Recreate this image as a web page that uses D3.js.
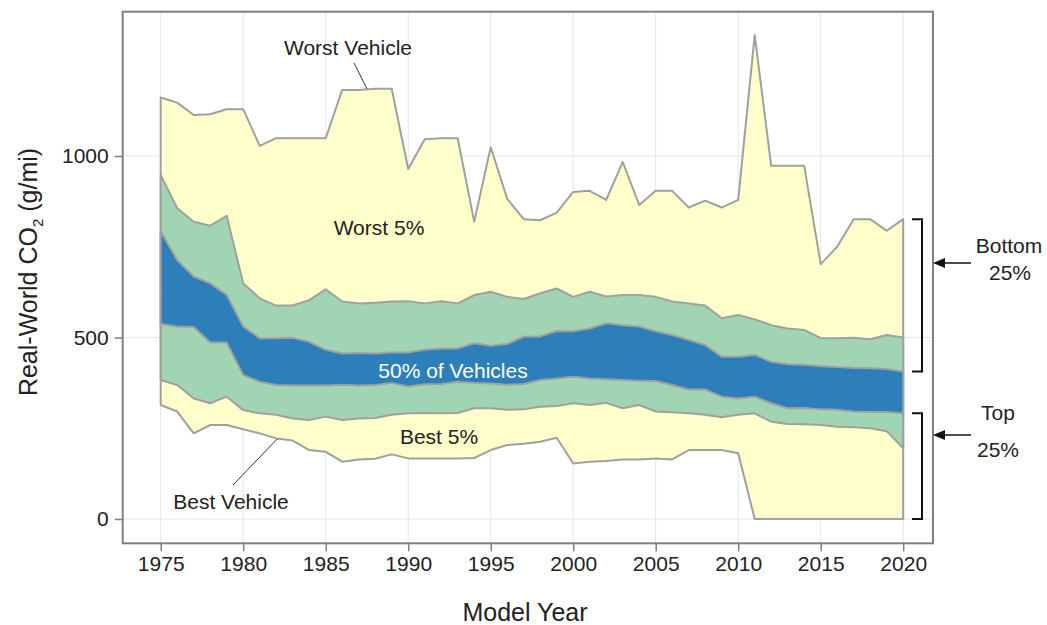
<!DOCTYPE html>
<html>
<head>
<meta charset="utf-8">
<script src="https://cdn.jsdelivr.net/npm/d3@7"></script>
<style>
  body { margin: 0; background: #fff; }
  svg text { font-family: "Liberation Sans", Arial, sans-serif; fill: #222; }
</style>
</head>
<body>
<div id="container"></div>
<script>
var YEARS = d3.range(1975, 2021);

// real-world CO2 (g/mi) by model year
var WORST_VEHICLE = [1161,1147,1113,1115,1129,1129,1028,1049,1049,1049,
		     1049,1182,1182,1185,1185,964,1046,1049,1049,819,
		     1024,882,826,823,844,901,904,879,984,865,
		     904,904,858,877,858,879,1333,973,973,973,
		     702,750,826,826,794,826];
var P95 = [948,856,819,808,835,649,608,588,588,603,
	   633,599,594,596,599,600,594,600,594,617,
	   626,612,606,622,635,612,626,613,617,617,
	   612,599,594,588,553,562,550,534,525,521,
	   498,498,499,495,507,500];
var P75 = [792,713,668,649,617,530,498,498,499,488,
	   466,456,457,456,459,459,466,470,470,484,
	   477,482,502,503,518,517,525,539,534,530,
	   517,507,493,479,447,447,452,433,426,425,
	   421,419,416,415,413,406];
var P25 = [537,530,529,486,486,397,378,369,368,368,
	   368,370,368,369,375,365,371,372,378,375,
	   373,370,372,383,387,392,387,385,383,381,
	   380,369,357,357,337,332,337,319,305,306,
	   302,301,296,295,295,291];
var P05 = [383,369,332,319,337,300,291,287,277,273,
	   282,273,277,278,287,291,292,291,292,305,
	   305,301,302,309,311,319,314,320,305,314,
	   296,294,291,287,280,287,291,268,262,261,
	   259,254,253,250,242,195];
var BEST_VEHICLE = [314,296,236,259,259,247,236,222,216,190,
		    185,158,164,166,178,167,167,167,167,168,
		    190,204,207,213,224,153,158,160,164,164,
		    167,164,190,190,190,181,0,0,0,0,
		    0,0,0,0,0,0];

var X_TICKS = [1975,1980,1985,1990,1995,2000,2005,2010,2015,2020];
var Y_TICKS = [0, 500, 1000];

var WIDTH = 1047, HEIGHT = 625;
var FRAME = { left: 122.7, right: 933, top: 11.7, bottom: 543.3 };

var x = d3.scaleLinear().domain([1975, 2020]).range([160.7, 903.2]);
var y = d3.scaleLinear().domain([0, 1000]).range([519, 156]);

var svg = d3.select("#container").append("svg")
    .attr("width", WIDTH)
    .attr("height", HEIGHT);

// grid
svg.append("g").selectAll("line.vgrid")
    .data(X_TICKS).enter().append("line")
    .attr("x1", function(d){ return x(d); })
    .attr("x2", function(d){ return x(d); })
    .attr("y1", FRAME.top).attr("y2", FRAME.bottom)
    .attr("stroke", "#e6e6e6").attr("stroke-width", 1);

svg.append("g").selectAll("line.hgrid")
    .data(Y_TICKS).enter().append("line")
    .attr("x1", FRAME.left).attr("x2", FRAME.right)
    .attr("y1", function(d){ return y(d); })
    .attr("y2", function(d){ return y(d); })
    .attr("stroke", "#e6e6e6").attr("stroke-width", 1);

var band = function( lo, hi )
{
    return d3.area()
	.x(function(d, i){ return x(YEARS[i]); })
	.y0(function(d, i){ return y(lo[i]); })
	.y1(function(d, i){ return y(hi[i]); })(YEARS);
}

var bands = [
    { lo: BEST_VEHICLE, hi: WORST_VEHICLE, fill: "#ffffcc" },
    { lo: P05, hi: P95, fill: "#a1d4b2" },
    { lo: P25, hi: P75, fill: "#2c7fb8" }
];

svg.append("g").selectAll("path")
    .data(bands).enter().append("path")
    .attr("d", function(b){ return band(b.lo, b.hi); })
    .attr("fill", function(b){ return b.fill; })
    .attr("stroke", "#a0a0a0")
    .attr("stroke-width", 2)
    .attr("stroke-linejoin", "round");

// frame
svg.append("rect")
    .attr("x", FRAME.left).attr("y", FRAME.top)
    .attr("width", FRAME.right - FRAME.left)
    .attr("height", FRAME.bottom - FRAME.top)
    .attr("fill", "none")
    .attr("stroke", "#808080")
    .attr("stroke-width", 2);

// axes
var xAxis = d3.axisBottom(x).tickValues(X_TICKS).tickFormat(d3.format("d"))
    .tickSize(8).tickPadding(5);
var gx = svg.append("g")
    .attr("transform", "translate(0," + FRAME.bottom + ")")
    .call(xAxis);
gx.select(".domain").remove();
gx.selectAll(".tick line").attr("stroke", "#808080").attr("stroke-width", 1.5);
gx.selectAll(".tick text").style("font-size", "21px").attr("fill", "#222");

var yAxis = d3.axisLeft(y).tickValues(Y_TICKS).tickFormat(d3.format("d"))
    .tickSize(8).tickPadding(6);
var gy = svg.append("g")
    .attr("transform", "translate(" + FRAME.left + ",0)")
    .call(yAxis);
gy.select(".domain").remove();
gy.selectAll(".tick line").attr("stroke", "#808080").attr("stroke-width", 1.5);
gy.selectAll(".tick text").style("font-size", "21px").attr("fill", "#222");

// axis titles
svg.append("text")
    .attr("x", 525).attr("y", 621)
    .attr("text-anchor", "middle")
    .style("font-size", "25px")
    .text("Model Year");

var yt = svg.append("text")
    .attr("transform", "translate(37,272) rotate(-90)")
    .attr("text-anchor", "middle")
    .style("font-size", "25px");
yt.append("tspan").text("Real-World CO");
yt.append("tspan").attr("dy", 6).style("font-size", "15px").text("2");
yt.append("tspan").attr("dy", -6).text(" (g/mi)");

// band labels
var labels = [
    { t: "Worst Vehicle", x: 348, y: 55, c: "#222" },
    { t: "Worst 5%", x: 379, y: 235, c: "#222" },
    { t: "50% of Vehicles", x: 453, y: 378, c: "#ffffff" },
    { t: "Best 5%", x: 439, y: 444, c: "#222" },
    { t: "Best Vehicle", x: 231, y: 509, c: "#222" },
    { t: "Bottom", x: 1009, y: 253, c: "#222" },
    { t: "25%", x: 1010, y: 280, c: "#222" },
    { t: "Top", x: 998, y: 420, c: "#222" },
    { t: "25%", x: 998, y: 457, c: "#222" }
];
svg.append("g").selectAll("text")
    .data(labels).enter().append("text")
    .attr("x", function(d){ return d.x; })
    .attr("y", function(d){ return d.y; })
    .attr("text-anchor", "middle")
    .style("font-size", "21px")
    .style("fill", function(d){ return d.c; })
    .text(function(d){ return d.t; });

// leader lines
svg.append("line")
    .attr("x1", 354).attr("y1", 63)
    .attr("x2", x(1987.5)).attr("y2", y(1185))
    .attr("stroke", "#333").attr("stroke-width", 1);
svg.append("line")
    .attr("x1", 233).attr("y1", 485)
    .attr("x2", x(1982.05)).attr("y2", y(220))
    .attr("stroke", "#333").attr("stroke-width", 1);

// brackets
var last = YEARS.length - 1;
var bracket = function( top, bot )
{
    var bx = 922;
    svg.append("path")
	.attr("d", "M912," + top + "H" + bx + "V" + bot + "H912")
	.attr("fill", "none")
	.attr("stroke", "#111")
	.attr("stroke-width", 2);
}
bracket(y(WORST_VEHICLE[last]), y(P75[last]));
bracket(y(P25[last]), y(0));

// arrows
var arrow = function( ay )
{
    svg.append("line")
	.attr("x1", 971).attr("y1", ay)
	.attr("x2", 940).attr("y2", ay)
	.attr("stroke", "#111").attr("stroke-width", 1.5);
    svg.append("path")
	.attr("d", "M933," + ay + "L945," + (ay - 5) + "L945," + (ay + 5) + "Z")
	.attr("fill", "#111");
}
arrow(263);
arrow(435);
</script>
</body>
</html>
